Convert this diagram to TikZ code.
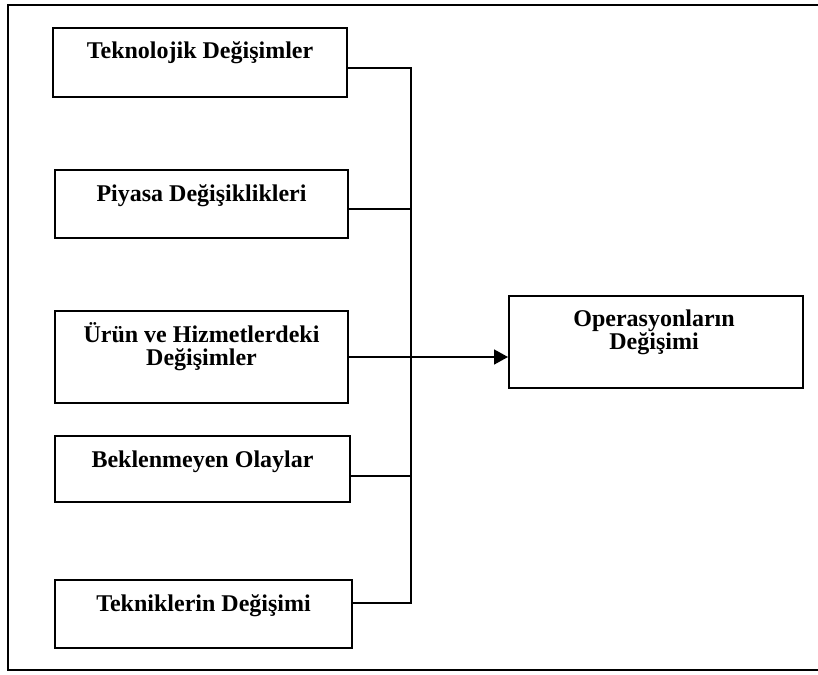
\documentclass[tikz,border=0pt]{standalone}
\usepackage{fontspec}
\setmainfont{Liberation Serif}
\usetikzlibrary{arrows.meta}
\begin{document}
\begin{tikzpicture}[x=1pt,y=-1pt,
  box/.style={draw=black, line width=2pt, inner sep=0pt},
  lbl/.style={font=\fontsize{24}{23}\selectfont\bfseries, inner sep=0pt, anchor=base, align=center},
  link/.style={draw=black, line width=1.6pt}]
\useasboundingbox (0,0) rectangle (818,674);
% open outer frame
\draw[line width=2pt] (820,5) -- (8,5) -- (8,670) -- (820,670);

% left column of boxes (sizes in px)
\node[box, minimum width=294pt, minimum height=69pt] (b1) at (200,62.5) {};
\node[box, minimum width=293pt, minimum height=68pt] (b2) at (201.5,204) {};
\node[box, minimum width=293pt, minimum height=92pt] (b3) at (201.5,357) {};
\node[box, minimum width=295pt, minimum height=66pt] (b4) at (202.5,469) {};
\node[box, minimum width=297pt, minimum height=68pt] (b5) at (203.5,614) {};
\node[box, minimum width=294pt, minimum height=92pt] (op) at (656,342) {};

% labels (base anchor = baseline of the last line)
\node[lbl] (t1) at (200,59) {Teknolojik Değişimler};
\node[lbl] (t2) at (201.5,201) {Piyasa Değişiklikleri};
\node[lbl] (t3) at (201.5,365) {Ürün ve Hizmetlerdeki\\Değişimler};
\node[lbl] (t4) at (202.5,467) {Beklenmeyen Olaylar};
\node[lbl] (t5) at (203.5,611) {Tekniklerin Değişimi};
\node[lbl] (t6) at (654,349) {Operasyonların\\Değişimi};

% collector line
\coordinate (c1) at ([yshift=-5.5pt]b1.east);
\coordinate (c2) at ([yshift=-5pt]b2.east);
\coordinate (c4) at ([yshift=-7pt]b4.east);
\coordinate (c5) at ([yshift=11pt]b5.east);
\coordinate (bus) at (411,0);
\draw[link] (c1) -- (c1 -| bus) -- (c5 -| bus) -- (c5);
\draw[link] (c2) -- (c2 -| bus);
\draw[link] (c4) -- (c4 -| bus);
\draw[link, -{Triangle[length=14pt,width=15pt]}] (b3.east) -- (b3.east -| op.west);
\end{tikzpicture}
\end{document}
